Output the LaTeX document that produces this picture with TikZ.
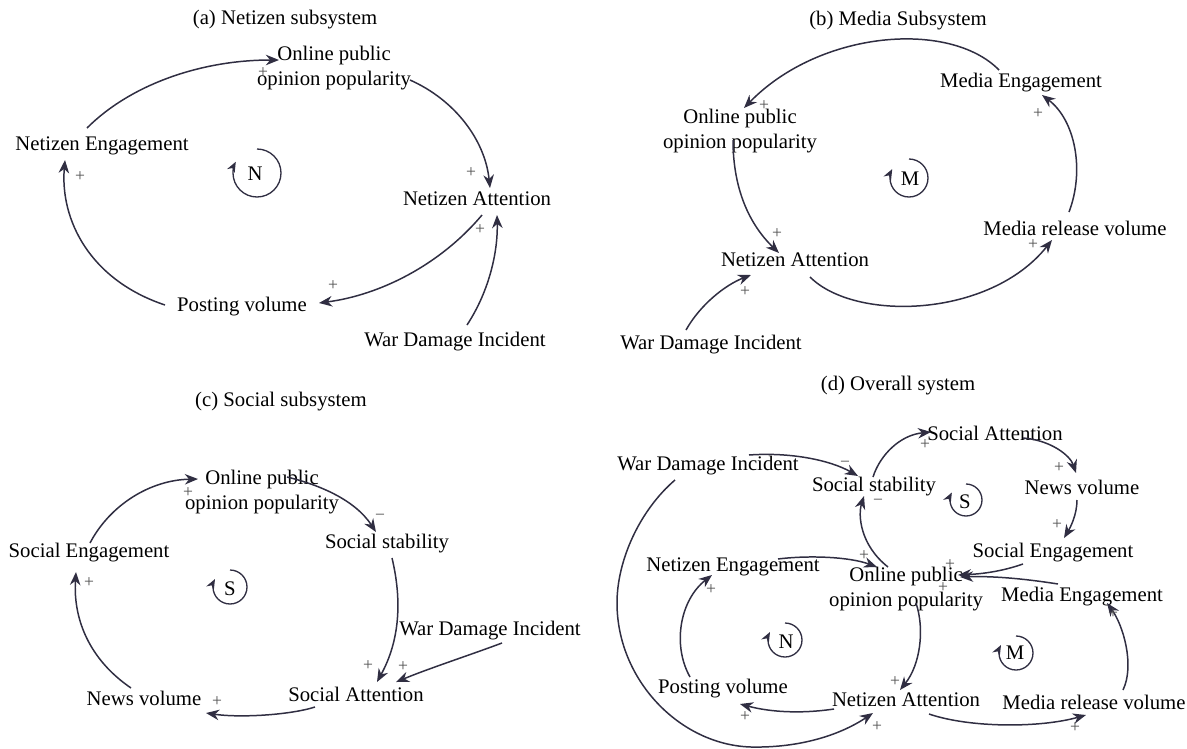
\documentclass[tikz,border=0pt]{standalone}
\usepackage{fontspec}
\setmainfont{Liberation Serif}
\usetikzlibrary{arrows.meta}
\definecolor{ln}{RGB}{48,46,66}
\definecolor{sg}{RGB}{80,80,80}
\tikzset{
  lbl/.style={inner sep=1pt, font=\fontsize{11.8}{14.2}\selectfont, align=center, text=black},
  ttl/.style={inner sep=1pt, font=\fontsize{11.8}{14.2}\selectfont, text=black},
  arr/.style={draw=ln, line width=0.85pt, -{Stealth[length=7.5pt,width=6pt]}},
  sgn/.style={inner sep=0pt, font=\fontsize{10}{10}\selectfont, text=sg},
  loopc/.style={draw=ln, line width=0.75pt, -{Stealth[length=6pt,width=4.8pt]}},
  loopl/.style={inner sep=0pt, font=\fontsize{11.8}{14.2}\selectfont, text=black},
}
\newcommand{\cldloop}[5]{%
  \draw[loopc] (#1) ++(-90:#2) arc[start angle=-90, end angle=208, radius=#2];
  \node[loopl] (#4) at (#5) {#3};
}
\begin{document}
\begin{tikzpicture}[x=0.02cm,y=-0.02cm]
\useasboundingbox (0,0) rectangle (1187,748);

% ---------------- (a) ----------------
\node[ttl] (ta) at (285,20) {(a) Netizen subsystem};
\node[lbl] (aop) at (334,68) {Online public\\opinion popularity};
\node[lbl] (ane) at (102,146) {Netizen Engagement};
\node[lbl] (ana) at (477,199) {Netizen Attention};
\node[lbl] (apv) at (242,307) {Posting volume};
\node[lbl] (awd) at (455,342) {War Damage Incident};
\cldloop{257,173}{24}{N}{aloop}{255,174}

\draw[arr] ([shift={(-15,-18)}]ane.center) .. controls +(43,-43) and +(-79,0) .. ([shift={(-55,-8)}]aop.center);
\draw[arr] ([shift={(76,12)}]aop.center) .. controls +(45,20) and +(-5,-48) .. ([shift={(13,-11)}]ana.center);
\draw[arr] ([shift={(5,16)}]ana.center) .. controls +(-42,50) and +(61,-8) .. ([shift={(77,-4)}]apv.center);
\draw[arr] ([shift={(-77,-2)}]apv.center) .. controls +(-75,-25) and +(-5,60) .. ([shift={(-37,14)}]ane.center);
\draw[arr] ([shift={(12,-17)}]awd.center) .. controls +(23,-35) and +(1,35) .. ([shift={(20,16)}]ana.center);
\node[sgn] (sa1) at (263,73) {+};
\node[sgn] (sa2) at (471,173) {+};
\node[sgn] (sa3) at (333,286) {+};
\node[sgn] (sa4) at (80,177) {+};
\node[sgn] (sa5) at (480,230) {+};

% ---------------- (b) ----------------
\node[ttl] (tb) at (898,21) {(b) Media Subsystem};
\node[lbl] (bme) at (1021,83) {Media Engagement};
\node[lbl] (bop) at (740,131) {Online public\\opinion popularity};
\node[lbl] (bna) at (795,260) {Netizen Attention};
\node[lbl] (bmr) at (1075,228) {Media release volume};
\node[lbl] (bwd) at (711,345) {War Damage Incident};
\cldloop{909,178}{19}{M}{bloop}{910,179}

\draw[arr] ([shift={(-22,-13)}]bme.center) .. controls +(-49,-50) and +(76,-78) .. ([shift={(4,-23)}]bop.center);
\draw[arr] ([shift={(-7,9)}]bop.center) .. controls +(0,50) and +(-29,-28) .. ([shift={(-16,-7)}]bna.center);
\draw[arr] ([shift={(15,17)}]bna.center) .. controls +(45,45) and +(-62,78) .. ([shift={(-23,12)}]bmr.center);
\draw[arr] ([shift={(-6,-16)}]bmr.center) .. controls +(16,-42) and +(33,25) .. ([shift={(21,12)}]bme.center);
\draw[arr] ([shift={(-25,-15)}]bwd.center) .. controls +(14,-25) and +(-26,10) .. ([shift={(-44,15)}]bna.center);
\node[sgn] (sb1) at (764,106) {+};
\node[sgn] (sb2) at (777,234) {+};
\node[sgn] (sb3) at (1033,245) {+};
\node[sgn] (sb4) at (1038,114) {+};
\node[sgn] (sb5) at (745,292) {+};

% ---------------- (c) ----------------
\node[ttl] (tc) at (281,402) {(c) Social subsystem};
\node[lbl] (cop) at (262,492) {Online public\\opinion popularity};
\node[lbl] (cse) at (89,553) {Social Engagement};
\node[lbl] (css) at (387,544) {Social stability};
\node[lbl] (cwd) at (490,631) {War Damage Incident};
\node[lbl] (csa) at (356,694) {Social Attention};
\node[lbl] (cnv) at (144,698) {News volume};
\cldloop{230,587}{17}{S}{cloop}{230,589}

\draw[arr] ([shift={(1,-10)}]cse.center) .. controls +(20,-38) and +(-48,1) .. ([shift={(-64,-13)}]cop.center);
\draw[arr] ([shift={(25,-15)}]cop.center) .. controls +(33,8) and +(-21,-32) .. ([shift={(-11,-12)}]css.center);
\draw[arr] ([shift={(5,14)}]css.center) .. controls +(10,42) and +(23,-42) .. ([shift={(21,-12)}]csa.center);
\draw[arr] ([shift={(12,12)}]cwd.center) .. controls +(-32,12) and +(34,-14) .. ([shift={(40,-12)}]csa.center);
\draw[arr] ([shift={(-41,13)}]csa.center) .. controls +(-25,8) and +(34,5) .. ([shift={(62,15)}]cnv.center);
\draw[arr] ([shift={(-13,-10)}]cnv.center) .. controls +(-41,-28) and +(-3,48) .. ([shift={(-13,19)}]cse.center);
\node[sgn] (sc1) at (188,493) {+};
\node[sgn] (sc2) at (380,517) {−};
\node[sgn] (sc3) at (368,666) {+};
\node[sgn] (sc4) at (403,667) {+};
\node[sgn] (sc5) at (217,702) {+};
\node[sgn] (sc6) at (89,583) {+};

% ---------------- (d) ----------------
\node[ttl] (td) at (898,386) {(d) Overall system};
\node[lbl] (dsa) at (995,433) {Social Attention};
\node[lbl] (dwd) at (708,466) {War Damage Incident};
\node[lbl] (dss) at (874,487) {Social stability};
\node[lbl] (dnv) at (1082,487) {News volume};
\node[lbl] (dse) at (1053,553) {Social Engagement};
\node[lbl] (dne) at (733,567) {Netizen Engagement};
\node[lbl] (dop) at (906,589) {Online public\\opinion popularity};
\node[lbl] (dme) at (1082,597) {Media Engagement};
\node[lbl] (dpv) at (723,689) {Posting volume};
\node[lbl] (dna) at (906,700) {Netizen Attention};
\node[lbl] (dmr) at (1094,702) {Media release volume};
\cldloop{966,500}{16}{S}{dsloop}{965,502}
\cldloop{785,640}{17}{N}{dnloop}{786,642}
\cldloop{1016,653}{17}{M}{dmloop}{1015,653}

\draw[arr] ([shift={(41,-11)}]dwd.center) .. controls +(41,-3) and +(-28,-16) .. ([shift={(-16,-11)}]dss.center);
\draw[arr] ([shift={(-33,14)}]dwd.center) .. controls (640,510) and (617,560) .. (617,603)
   .. controls (617,680) and (680,745) .. (751,747)
   .. controls (800,748) and (840,735) .. ([shift={(-33,13)}]dna.center);
\draw[arr] ([shift={(-1,-10)}]dss.center) .. controls +(7,-22) and +(-31,3) .. ([shift={(-64,-1)}]dsa.center);
\draw[arr] ([shift={(28,5)}]dsa.center) .. controls +(27,2) and +(-6,-18) .. ([shift={(-6,-14)}]dnv.center);
\draw[arr] ([shift={(-5,13)}]dnv.center) .. controls +(0,15) and +(6,-10) .. ([shift={(11,-15)}]dse.center);
\draw[arr] ([shift={(-18,-22)}]dop.center) .. controls +(-28,-22) and +(-6,19) .. ([shift={(-10,9)}]dss.center);
\draw[arr] ([shift={(45,-8)}]dne.center) .. controls +(32,-4) and +(-27,-10) .. ([shift={(-29,-22)}]dop.center);
\draw[arr] ([shift={(-30,11)}]dse.center) .. controls +(-23,8) and +(22,-1) .. ([shift={(52,-14)}]dop.center);
\draw[arr] ([shift={(-24,-13)}]dme.center) .. controls +(-38,-6) and +(30,-1) .. ([shift={(54,-12)}]dop.center);
\draw[arr] ([shift={(10,14)}]dop.center) .. controls +(9,27) and +(20,-25) .. ([shift={(-6,-10)}]dna.center);
\draw[arr] ([shift={(-72,9)}]dna.center) .. controls +(-34,5) and +(30,8) .. ([shift={(17,15)}]dpv.center);
\draw[arr] ([shift={(-33,-12)}]dpv.center) .. controls +(-18,-32) and +(-32,25) .. ([shift={(-21,8)}]dne.center);
\draw[arr] ([shift={(23,14)}]dna.center) .. controls +(41,14) and +(-46,13) .. ([shift={(-8,13)}]dmr.center);
\draw[arr] ([shift={(29,-12)}]dmr.center) .. controls +(12,-25) and +(16,22) .. ([shift={(25,6)}]dme.center);
\node[sgn] (sd1) at (845,464) {−};
\node[sgn] (sd2) at (877,727) {+};
\node[sgn] (sd3) at (925,445) {+};
\node[sgn] (sd4) at (1059,468) {+};
\node[sgn] (sd5) at (1057,525) {+};
\node[sgn] (sd6) at (878,502) {−};
\node[sgn] (sd7) at (864,556) {+};
\node[sgn] (sd8) at (950,565) {+};
\node[sgn] (sd9) at (943,588) {+};
\node[sgn] (sd10) at (895,682) {+};
\node[sgn] (sd11) at (745,717) {+};
\node[sgn] (sd12) at (711,590) {+};
\node[sgn] (sd13) at (1075,728) {+};
\node[sgn] (sd14) at (1113,614) {+};
\end{tikzpicture}
\end{document}
